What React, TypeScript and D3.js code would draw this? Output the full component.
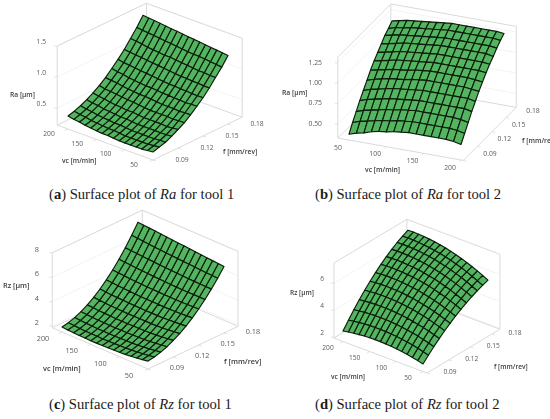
import * as d3 from "d3";

const vcLevels = [50, 60, 70, 80, 90, 100, 110, 120, 130, 140, 150, 160, 170, 180, 190, 200];
const fLevels = [0.09, 0.0975, 0.105, 0.1125, 0.12, 0.1275, 0.135, 0.1425, 0.15, 0.1575, 0.165, 0.1725, 0.18];
const vcTicks = [50, 100, 150, 200];
const fTicks = [0.09, 0.12, 0.15, 0.18];

// each row is one f level, each column one vc level
const ra1 = [
  [.35,.34,.33,.33,.33,.33,.33,.34,.35,.35,.36,.37,.38,.40,.41,.43],
  [.38,.37,.36,.36,.36,.36,.36,.37,.38,.38,.39,.40,.41,.43,.44,.46],
  [.41,.41,.40,.40,.40,.40,.40,.41,.42,.42,.43,.44,.45,.47,.48,.50],
  [.46,.45,.45,.45,.45,.45,.45,.46,.47,.47,.48,.49,.50,.52,.53,.55],
  [.52,.51,.50,.51,.51,.51,.51,.52,.53,.53,.54,.55,.56,.58,.59,.61],
  [.58,.58,.57,.58,.58,.58,.58,.59,.60,.61,.62,.63,.64,.65,.66,.68],
  [.66,.66,.65,.66,.66,.66,.67,.68,.69,.69,.70,.71,.72,.74,.75,.76],
  [.75,.75,.74,.75,.75,.76,.76,.77,.78,.78,.79,.80,.81,.83,.84,.86],
  [.84,.84,.84,.85,.85,.86,.86,.87,.88,.89,.90,.91,.92,.93,.94,.96],
  [.95,.95,.96,.96,.97,.97,.98,.99,1.00,1.01,1.02,1.03,1.04,1.05,1.06,1.07],
  [1.07,1.07,1.08,1.08,1.09,1.10,1.11,1.12,1.13,1.13,1.14,1.15,1.16,1.18,1.19,1.20],
  [1.19,1.20,1.21,1.22,1.23,1.23,1.24,1.25,1.26,1.27,1.28,1.29,1.30,1.31,1.32,1.33],
  [1.33,1.34,1.35,1.36,1.37,1.38,1.39,1.40,1.41,1.42,1.43,1.44,1.45,1.46,1.47,1.48],
];
const ra2 = [
  [.40,.43,.45,.48,.50,.51,.53,.54,.55,.55,.55,.55,.55,.55,.54,.52],
  [.50,.53,.55,.57,.59,.60,.62,.63,.64,.64,.64,.64,.64,.64,.63,.61],
  [.59,.62,.64,.66,.68,.69,.71,.72,.73,.73,.73,.73,.73,.73,.72,.70],
  [.68,.71,.73,.75,.77,.78,.79,.80,.81,.81,.81,.81,.81,.81,.81,.79],
  [.76,.79,.81,.83,.85,.86,.87,.88,.89,.89,.89,.89,.89,.89,.89,.87],
  [.84,.87,.89,.91,.92,.93,.95,.96,.97,.97,.97,.97,.97,.97,.96,.95],
  [.92,.94,.96,.98,.99,1.00,1.02,1.03,1.04,1.04,1.04,1.04,1.04,1.04,1.03,1.02],
  [.99,1.01,1.03,1.05,1.06,1.07,1.08,1.09,1.10,1.10,1.10,1.10,1.10,1.10,1.10,1.09],
  [1.05,1.07,1.09,1.11,1.12,1.13,1.14,1.15,1.16,1.16,1.16,1.16,1.16,1.16,1.16,1.15],
  [1.11,1.13,1.15,1.17,1.18,1.19,1.20,1.21,1.22,1.22,1.22,1.22,1.22,1.22,1.22,1.20],
  [1.17,1.19,1.21,1.22,1.23,1.24,1.25,1.26,1.27,1.27,1.27,1.27,1.27,1.27,1.27,1.26],
  [1.21,1.24,1.25,1.27,1.28,1.29,1.30,1.31,1.32,1.32,1.32,1.32,1.32,1.32,1.32,1.31],
  [1.26,1.28,1.30,1.31,1.32,1.33,1.34,1.35,1.36,1.36,1.36,1.36,1.36,1.36,1.36,1.35],
];
const rz1 = [
  [2.50,2.42,2.35,2.29,2.24,2.21,2.19,2.17,2.16,2.15,2.15,2.16,2.17,2.19,2.22,2.26],
  [2.59,2.51,2.45,2.39,2.34,2.31,2.29,2.27,2.26,2.25,2.26,2.27,2.28,2.30,2.33,2.37],
  [2.74,2.67,2.60,2.55,2.50,2.47,2.46,2.44,2.43,2.43,2.43,2.44,2.45,2.47,2.50,2.54],
  [2.94,2.88,2.82,2.76,2.72,2.70,2.68,2.67,2.67,2.66,2.66,2.68,2.69,2.71,2.74,2.78],
  [3.21,3.14,3.09,3.04,3.01,2.99,2.98,2.97,2.96,2.96,2.97,2.98,3.00,3.02,3.05,3.09],
  [3.52,3.47,3.42,3.38,3.35,3.33,3.33,3.32,3.32,3.32,3.33,3.35,3.36,3.39,3.42,3.46],
  [3.89,3.85,3.81,3.78,3.75,3.74,3.74,3.74,3.74,3.75,3.76,3.78,3.80,3.82,3.86,3.90],
  [4.32,4.28,4.26,4.23,4.22,4.21,4.22,4.22,4.23,4.24,4.25,4.27,4.30,4.32,4.36,4.40],
  [4.80,4.78,4.76,4.75,4.75,4.75,4.76,4.77,4.78,4.79,4.81,4.84,4.86,4.89,4.93,4.97],
  [5.34,5.33,5.33,5.33,5.33,5.34,5.36,5.38,5.39,5.41,5.44,5.47,5.49,5.53,5.56,5.60],
  [5.94,5.95,5.96,5.97,5.98,6.00,6.03,6.05,6.07,6.10,6.13,6.16,6.19,6.23,6.26,6.30],
  [6.59,6.61,6.64,6.66,6.69,6.72,6.75,6.78,6.81,6.84,6.88,6.91,6.95,6.99,7.03,7.07],
  [7.30,7.34,7.38,7.42,7.46,7.50,7.54,7.58,7.62,7.66,7.70,7.74,7.78,7.82,7.86,7.90],
];
const rz2 = [
  [2.49,2.59,2.68,2.76,2.82,2.87,2.91,2.94,2.96,2.96,2.95,2.93,2.89,2.84,2.78,2.71],
  [2.90,3.01,3.11,3.21,3.28,3.34,3.39,3.43,3.46,3.47,3.47,3.46,3.43,3.39,3.34,3.27],
  [3.29,3.41,3.52,3.63,3.71,3.78,3.84,3.89,3.93,3.95,3.96,3.96,3.94,3.91,3.86,3.81],
  [3.65,3.78,3.91,4.02,4.11,4.20,4.27,4.33,4.37,4.40,4.42,4.42,4.41,4.39,4.35,4.31],
  [3.99,4.13,4.26,4.39,4.49,4.59,4.67,4.73,4.79,4.82,4.85,4.86,4.86,4.84,4.81,4.77],
  [4.30,4.45,4.60,4.73,4.84,4.94,5.03,5.11,5.17,5.21,5.25,5.26,5.27,5.26,5.24,5.20],
  [4.59,4.75,4.90,5.05,5.16,5.28,5.37,5.45,5.52,5.57,5.61,5.64,5.65,5.65,5.63,5.60],
  [4.85,5.03,5.19,5.34,5.46,5.58,5.69,5.77,5.85,5.91,5.95,5.98,6.00,6.01,6.00,5.97],
  [5.09,5.27,5.44,5.60,5.73,5.86,5.97,6.06,6.14,6.21,6.26,6.29,6.32,6.33,6.32,6.30],
  [5.31,5.50,5.67,5.84,5.97,6.11,6.22,6.32,6.41,6.48,6.53,6.57,6.60,6.62,6.62,6.60],
  [5.51,5.70,5.88,6.05,6.19,6.33,6.45,6.55,6.65,6.72,6.78,6.83,6.86,6.88,6.88,6.87],
  [5.67,5.87,6.05,6.23,6.38,6.52,6.65,6.75,6.85,6.93,6.99,7.04,7.08,7.10,7.11,7.10],
  [5.82,6.02,6.21,6.39,6.54,6.69,6.82,6.93,7.03,7.11,7.18,7.23,7.27,7.30,7.31,7.30],
];

const PANELS = [
  {
    id: "a", metric: "Ra", tool: 1, values: ra1, unit: "Ra [µm]", textSize: 6.7,
    zTicks: [0.5, 1, 1.5], zFormat: ".1f", zDomain: [0.22, 1.5], zHeight: 79, zDy: -4,
    origin: [153, 160], vcVec: [-85, -31], fVec: [75, -36],
    vcBox: [50, 219], fBox: [0.09, 0.197], frontVc: 50,
    vcOff: [-19, 5], fOff: [29, 0], zX: 46,
    unitPos: [10, 95], vcPos: [62, 161], fPos: [223, 152], captionX: 49, captionY: 199,
  },
  {
    id: "b", metric: "Ra", tool: 2, values: ra2, unit: "Ra [µm]", textSize: 6.8,
    zTicks: [0.5, 0.75, 1, 1.25], zFormat: ".2f", zDomain: [0.33, 1.32], zHeight: 81, zDy: 0,
    origin: [349, 140], vcVec: [112, 20], fVec: [43, -43],
    vcBox: [35, 203], fBox: [0.09, 0.201], frontVc: 203,
    vcOff: [-11, 8], fOff: [29, -6], zX: 322,
    unitPos: [282, 93], vcPos: [365, 170], fPos: [522, 141], captionX: 315, captionY: 199,
  },
  {
    id: "c", metric: "Rz", tool: 1, values: rz1, unit: "Rz [µm]", textSize: 7.3,
    zTicks: [2, 4, 6, 8], zFormat: "d", zDomain: [1.85, 8], zHeight: 75, zDy: -3,
    origin: [148, 369], vcVec: [-86, -37], fVec: [76, -36],
    vcBox: [50, 217], fBox: [0.09, 0.1966], frontVc: 50,
    vcOff: [-19, 7], fOff: [29, -1], zX: 39,
    unitPos: [3, 286], vcPos: [43, 369], fPos: [224, 362], captionX: 49, captionY: 409,
  },
  {
    id: "d", metric: "Rz", tool: 2, values: rz2, unit: "Rz [µm]", textSize: 6.6,
    zTicks: [2, 4, 6], zFormat: "d", zDomain: [1.93, 7.5], zHeight: 75, zDy: -4,
    origin: [423, 371.5], vcVec: [-80, -30], fVec: [65, -39],
    vcBox: [42.5, 217], fBox: [0.09, 0.191], frontVc: 42.5,
    vcOff: [-15, 7], fOff: [27, 1], zX: 324,
    unitPos: [290, 293], vcPos: [331, 377], fPos: [494, 367], captionX: 315, captionY: 409,
  },
];

const BOX_COLOR = "#dadada";
const WALL_COLOR = "#f0f0f0";
const SURFACE_COLOR = "#53b561";
const MESH_COLOR = "#0b1c0b";
const SANS = "'Open Sans', sans-serif";

const closedPath = d3.line().curve(d3.curveLinearClosed);

function Panel({ p }: { p: (typeof PANELS)[number] }) {
  const vcX = d3.scaleLinear().domain([50, 200]).range([0, p.vcVec[0]]);
  const vcY = d3.scaleLinear().domain([50, 200]).range([0, p.vcVec[1]]);
  const fX = d3.scaleLinear().domain([0.09, 0.18]).range([0, p.fVec[0]]);
  const fY = d3.scaleLinear().domain([0.09, 0.18]).range([0, p.fVec[1]]);
  const zY = d3.scaleLinear().domain(p.zDomain).range([0, -p.zHeight]);

  const project = (vc: number, f: number, z: number): [number, number] => [
    p.origin[0] + vcX(vc) + fX(f),
    p.origin[1] + vcY(vc) + fY(f) + zY(z),
  ];

  const [zMin, zMax] = p.zDomain;
  const [fMin, fMax] = p.fBox;
  const backVc = p.frontVc === p.vcBox[0] ? p.vcBox[1] : p.vcBox[0];
  const edge = (a: [number, number, number], b: [number, number, number]) => {
    const [x1, y1] = project(...a);
    const [x2, y2] = project(...b);
    return { x1, y1, x2, y2 };
  };

  const boxEdges = [
    edge([p.frontVc, fMin, zMin], [backVc, fMin, zMin]),
    edge([p.frontVc, fMin, zMin], [p.frontVc, fMax, zMin]),
    edge([backVc, fMax, zMin], [backVc, fMin, zMin]),
    edge([backVc, fMax, zMin], [p.frontVc, fMax, zMin]),
    edge([backVc, fMin, zMin], [backVc, fMin, zMax]),
    edge([p.frontVc, fMax, zMin], [p.frontVc, fMax, zMax]),
    edge([backVc, fMax, zMin], [backVc, fMax, zMax]),
    edge([backVc, fMin, zMax], [backVc, fMax, zMax]),
    edge([p.frontVc, fMax, zMax], [backVc, fMax, zMax]),
  ];

  const wallLines = p.zTicks.flatMap((z) => [
    edge([backVc, fMin, z], [backVc, fMax, z]),
    edge([p.frontVc, fMax, z], [backVc, fMax, z]),
  ]);

  const vcTickMarks = vcTicks.map((vc) => edge([vc, fMin, zMin], [vc, fMin - 0.004, zMin]));
  const fTickMarks = fTicks.map((f) => {
    const [x1, y1] = project(p.frontVc, f, zMin);
    return { x1, y1, x2: x1 + 3, y2: y1 + 1 };
  });
  const zTickMarks = p.zTicks.map((z) => {
    const [x1, y1] = project(backVc, fMin, z);
    return { x1, y1, x2: x1 - 3, y2: y1 };
  });

  // paint from the far side of the surface to the near side
  const cells: { key: string; d: string }[] = [];
  for (let r = fLevels.length - 2; r >= 0; r--) {
    for (let c = 0; c < vcLevels.length - 1; c++) {
      const corners = [
        project(vcLevels[c], fLevels[r], p.values[r][c]),
        project(vcLevels[c + 1], fLevels[r], p.values[r][c + 1]),
        project(vcLevels[c + 1], fLevels[r + 1], p.values[r + 1][c + 1]),
        project(vcLevels[c], fLevels[r + 1], p.values[r + 1][c]),
      ];
      cells.push({ key: r + "_" + c, d: closedPath(corners) as string });
    }
  }

  const fmtZ = d3.format(p.zFormat);
  const fmtF = d3.format(".2f");

  return (
    <g>
      <g filter="url(#soft)">
        {wallLines.map((l, i) => (
          <line key={i} {...l} stroke={WALL_COLOR} strokeWidth={0.8} />
        ))}
        {boxEdges.map((l, i) => (
          <line key={i} {...l} stroke={BOX_COLOR} strokeWidth={1} />
        ))}
        {[...vcTickMarks, ...fTickMarks, ...zTickMarks].map((l, i) => (
          <line key={i} {...l} stroke={BOX_COLOR} strokeWidth={0.8} />
        ))}
        {cells.map((cell) => (
          <path
            key={cell.key}
            d={cell.d}
            fill={SURFACE_COLOR}
            stroke={MESH_COLOR}
            strokeWidth={1.15}
            strokeLinejoin="round"
          />
        ))}
        <g fontFamily={SANS} fontSize={p.textSize} fill="#5a5a5a">
          {p.zTicks.map((z) => (
            <text
              key={z}
              x={p.zX}
              y={project(backVc, fMin, z)[1] + p.zDy}
              textAnchor="end"
              dominantBaseline="middle"
            >
              {fmtZ(z)}
            </text>
          ))}
          {vcTicks.map((vc) => {
            const [x, y] = project(vc, fMin, zMin);
            return (
              <text
                key={vc}
                x={x + p.vcOff[0]}
                y={y + p.vcOff[1]}
                textAnchor="middle"
                dominantBaseline="middle"
              >
                {vc}
              </text>
            );
          })}
          {fTicks.map((f) => {
            const [x, y] = project(p.id === "b" ? 200 : 50, f, zMin);
            return (
              <text
                key={f}
                x={x + p.fOff[0]}
                y={y + p.fOff[1]}
                textAnchor="middle"
                dominantBaseline="middle"
              >
                {fmtF(f)}
              </text>
            );
          })}
        </g>
        <g fontFamily={SANS} fontSize={p.textSize} fontWeight={600} fill="#3c3c3c" dominantBaseline="middle">
          <text x={p.unitPos[0]} y={p.unitPos[1]}>{p.unit}</text>
          <text x={p.vcPos[0]} y={p.vcPos[1]}>vc [m/min]</text>
          <text x={p.fPos[0]} y={p.fPos[1]}>f [mm/rev]</text>
        </g>
      </g>
      <text
        x={p.captionX}
        y={p.captionY}
        fontFamily="'Liberation Serif', serif"
        fontSize={14.6}
        fill="#1a1a1a"
      >
        (<tspan fontWeight="bold">{p.id}</tspan>) Surface plot of{" "}
        <tspan fontStyle="italic">{p.metric}</tspan> for tool {p.tool}
      </text>
    </g>
  );
}

export default function App() {
  return (
    <svg
      width={550}
      height={419}
      style={{ position: "absolute", left: 0, top: 0, background: "#fff" }}
    >
      <defs>
        <filter id="soft" x="-5%" y="-5%" width="110%" height="110%">
          <feGaussianBlur stdDeviation={0.35} />
        </filter>
      </defs>
      {PANELS.map((p) => (
        <Panel key={p.id} p={p} />
      ))}
    </svg>
  );
}
